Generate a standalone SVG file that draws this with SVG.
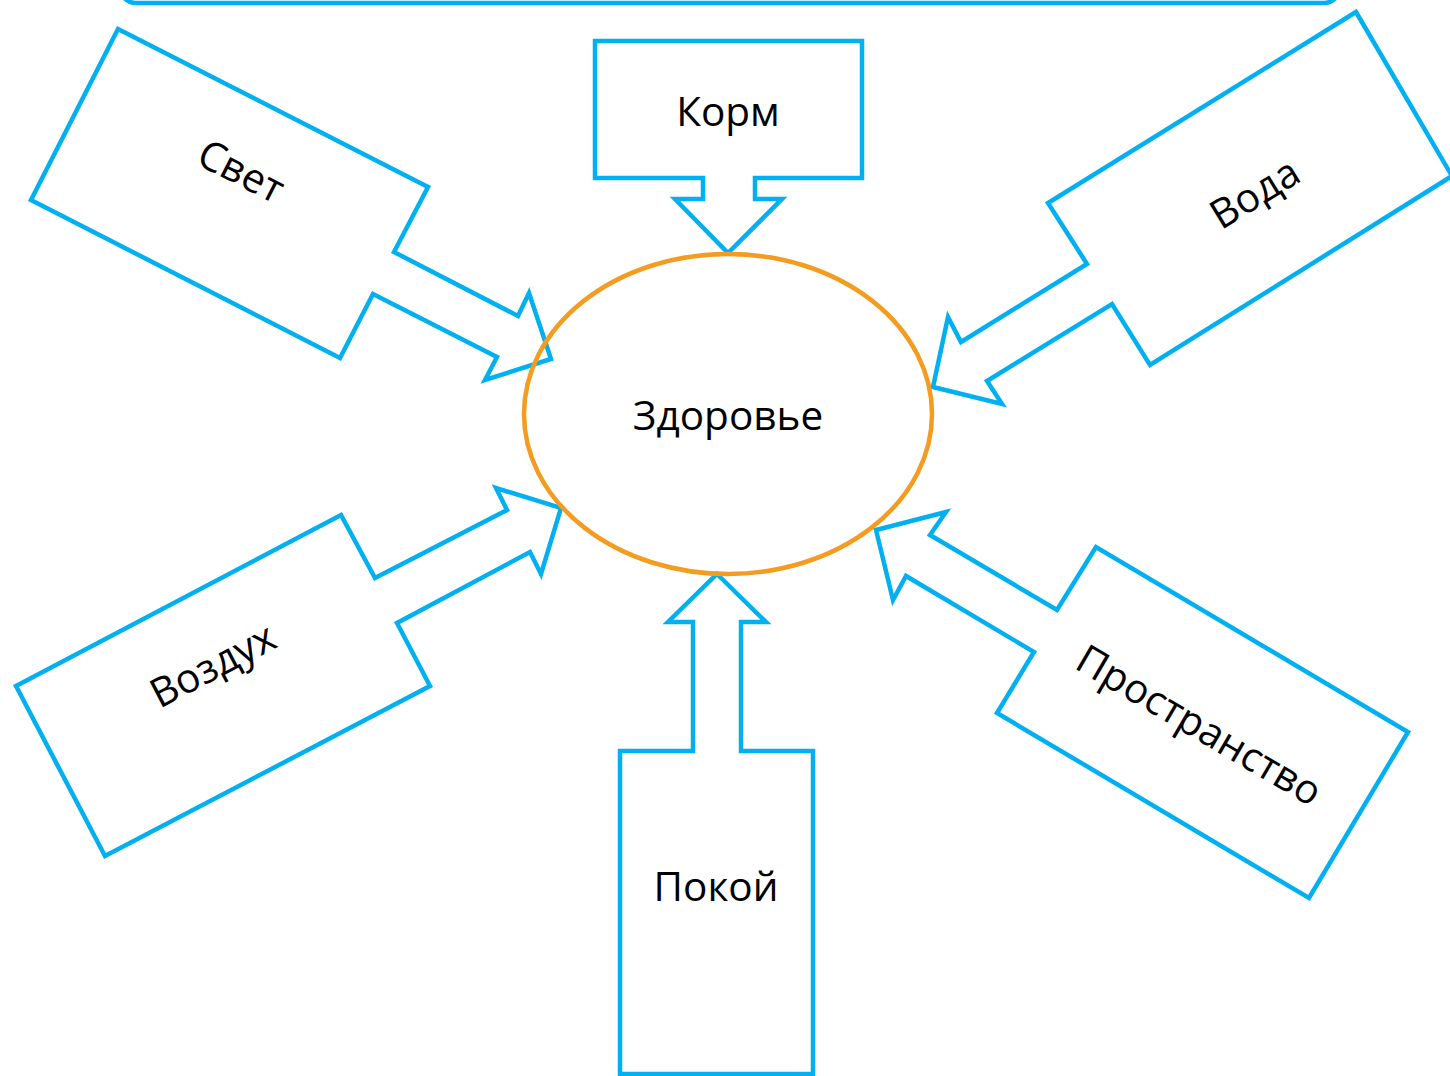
<svg xmlns="http://www.w3.org/2000/svg" width="1450" height="1076" viewBox="0 0 1450 1076">
<style>
.a{fill:#fff;stroke:#00B0F0;stroke-width:4.5;stroke-linejoin:miter}
.t{font-family:"Open Sans","Liberation Sans",sans-serif;font-size:40.5px;fill:#000;text-anchor:middle;dominant-baseline:central}
</style>
<rect width="1450" height="1076" fill="#fff"/>
<rect x="120" y="-40" width="1220" height="43" rx="16" fill="#fff" stroke="#00B0F0" stroke-width="4.5"/>
<g id="korm">
<path class="a" d="M595,41 H862 V178 H755 V199 H782 L728,253 L675,199 H703 V178 H595 Z"/>
<text class="t" x="728" y="110">Корм</text>
</g>
<g id="pokoy">
<path class="a" d="M717,574 L766,622 H741 V751 H813 V1074 H620 V751 H693 V622 H668 Z"/>
<text class="t" x="716" y="885">Покой</text>
</g>
<g id="svet">
<path class="a" d="M118,29 L428,187 L394,252 L518,316 L529,293 L551,359 L485,380 L497,357 L373,294 L340,358 L31,200 Z"/>
<text class="t" transform="translate(242,170) rotate(27)">Свет</text>
</g>
<g id="voda">
<path class="a" d="M1356,12 L1452,176 L1150,365 L1112,304 L987,381 L1002,404 L933,387 L948,317 L961,342 L1087,264 L1048,203 Z"/>
<text class="t" transform="translate(1254,192) rotate(-31.5)">Вода</text>
</g>
<g id="vozduh">
<path class="a" d="M16,686 L341,515 L375,578 L507,510 L496,488 L561,508 L541,574 L530,552 L397,623 L430,686 L105,856 Z"/>
<text class="t" transform="translate(212,664) rotate(-27.6)">Воздух</text>
</g>
<g id="prostranstvo">
<path class="a" d="M876,530 L946,512 L930,535 L1057,610 L1096,547 L1408,732 L1309,898 L997,713 L1034,652 L906,576 L893,600 Z"/>
<text class="t" transform="translate(1200,724) rotate(30.4)">Пространство</text>
</g>
<g id="zdorovye">
<ellipse cx="728" cy="414" rx="204" ry="160" fill="none" stroke="#F39C1F" stroke-width="4.5"/>
<text class="t" x="728" y="414">Здоровье</text>
</g>
</svg>
